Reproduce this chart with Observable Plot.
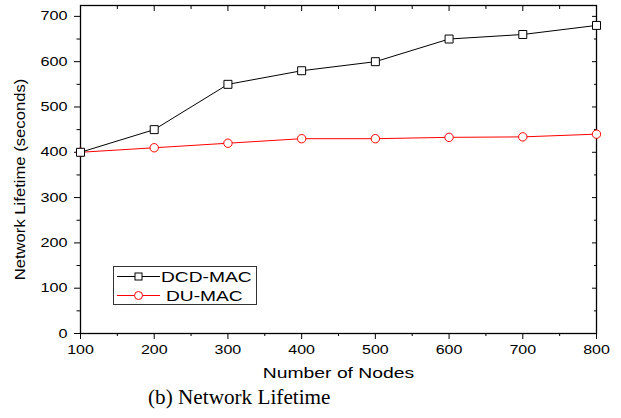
<!DOCTYPE html>
<html><head><meta charset="utf-8">
<script src="https://cdn.jsdelivr.net/npm/d3@7"></script>
<script src="https://cdn.jsdelivr.net/npm/@observablehq/plot@0.6"></script>
<style>
body{margin:0;background:#fff;}
#wrap{position:relative;width:621px;height:418px;font-family:"Liberation Sans",Arial,sans-serif;}
#caption{position:absolute;left:148px;top:386px;font-family:"Liberation Serif","Times New Roman",serif;font-size:20px;color:#000;white-space:nowrap;transform:scaleX(1.06);transform-origin:left top;}
#legend{position:absolute;left:113px;top:266px;}
</style></head>
<body><div id="wrap"><div id="chart"></div><div id="legend"></div><div id="caption">(b) Network Lifetime</div></div>
<script>
const nodes = [100, 200, 300, 400, 500, 600, 700, 800];
const dcdMac = [400, 450, 550, 580, 600, 650, 660, 680];
const duMac = [400, 410, 420, 430, 430, 433, 434, 440];
const seriesNames = ["DCD-MAC", "DU-MAC"];
const seriesColors = ["#000000", "#ff0000"];
const xTicks = [100, 200, 300, 400, 500, 600, 700, 800];
const yTicks = [0, 100, 200, 300, 400, 500, 600, 700];
const xMinor = [150, 250, 350, 450, 550, 650, 750];
const yMinor = [50, 150, 250, 350, 450, 550, 650];

const data = [];
nodes.forEach((n, i) => {
  data.push({x: n, y: dcdMac[i], s: seriesNames[0]});
  data.push({x: n, y: duMac[i], s: seriesNames[1]});
});
const dcd = data.filter(d => d.s === seriesNames[0]);
const du = data.filter(d => d.s === seriesNames[1]);

const font = "Liberation Sans, Arial, sans-serif";
const chart = Plot.plot({
  width: 621, height: 418,
  marginLeft: 80, marginRight: 25, marginTop: 5, marginBottom: 85,
  style: {fontFamily: font, fontSize: "12px", color: "#000", background: "#fff"},
  x: {domain: [100, 800]},
  y: {domain: [0, 724]},
  marks: [
    Plot.frame({stroke: "#000", strokeWidth: 1.3}),
    Plot.axisX({anchor: "bottom", ticks: xTicks, tickSize: 6, tickPadding: 6, fontSize: 12.5, label: null, tickFormat: d => String(d)}),
    Plot.axisX({anchor: "bottom", ticks: xMinor, tickSize: 3, text: null, label: null}),
    Plot.axisX({anchor: "top", ticks: xTicks, tickSize: 5, dy: 5, text: null, label: null}),
    Plot.axisX({anchor: "top", ticks: xMinor, tickSize: 3, dy: 3, text: null, label: null}),
    Plot.axisY({anchor: "left", ticks: yTicks, tickSize: 6, tickPadding: 7, fontSize: 12.5, label: null, tickFormat: d => String(d)}),
    Plot.axisY({anchor: "left", ticks: yMinor, tickSize: 3.5, text: null, label: null}),
    Plot.axisY({anchor: "right", ticks: yTicks, tickSize: 5, dx: -5, text: null, label: null}),
    Plot.axisY({anchor: "right", ticks: yMinor, tickSize: 3, dx: -3, text: null, label: null}),
    Plot.text(["Number of Nodes"], {frameAnchor: "bottom", dy: 40, fontSize: 14, lineAnchor: "middle", className: "stretch-x"}),
    Plot.text(["Network Lifetime (seconds)"], {frameAnchor: "left", textAnchor: "middle", dx: -60, dy: 10, rotate: -90, fontSize: 14, lineAnchor: "middle", className: "stretch-y"}),
    Plot.line(du, {x: "x", y: "y", stroke: seriesColors[1], strokeWidth: 1}),
    Plot.line(dcd, {x: "x", y: "y", stroke: seriesColors[0], strokeWidth: 1}),
    Plot.dot(du, {x: "x", y: "y", r: 4.2, stroke: seriesColors[1], fill: "#fff", strokeWidth: 1}),
    Plot.dot(dcd, {x: "x", y: "y", symbol: "square", r: 4.5, stroke: seriesColors[0], fill: "#fff", strokeWidth: 1})
  ]
});
document.getElementById("chart").appendChild(chart);

// widen glyphs along the text direction to match the reference rendering
function stretch(sel, s) {
  sel.each(function() {
    const t = this.getAttribute("transform");
    if (t && t.includes("translate")) {
      this.setAttribute("transform", `${t} scale(${s},1)`);
    } else {
      const x = parseFloat(this.getAttribute("x")) || 0;
      this.setAttribute("transform", `translate(${x},0) scale(${s},1) translate(${-x},0)`);
    }
  });
}
const root = d3.select(chart);
stretch(root.selectAll('g[aria-label="x-axis tick label"] text'), 1.28);
stretch(root.selectAll('g[aria-label="y-axis tick label"] text'), 1.3);
stretch(root.selectAll('g.stretch-x text'), 1.38);
stretch(root.selectAll('g.stretch-y text'), 1.19);

// legend
const lg = d3.select("#legend").append("svg").attr("width", 145).attr("height", 40)
  .style("font-family", font);
lg.append("rect").attr("x", 0.5).attr("y", 0.5).attr("width", 143).attr("height", 38)
  .attr("fill", "#fff").attr("stroke", "#333").attr("stroke-width", 1);
seriesNames.forEach((name, i) => {
  const y = 10.5 + i * 19;
  lg.append("line").attr("x1", 4).attr("x2", 47).attr("y1", y).attr("y2", y)
    .attr("stroke", seriesColors[i]).attr("stroke-width", 1);
  if (i === 0) {
    lg.append("rect").attr("x", 22).attr("y", y - 3.5).attr("width", 7).attr("height", 7)
      .attr("fill", "#fff").attr("stroke", seriesColors[i]);
  } else {
    lg.append("circle").attr("cx", 25.5).attr("cy", y).attr("r", 4)
      .attr("fill", "#fff").attr("stroke", seriesColors[i]);
  }
  const tx = i === 0 ? 48 : 53;
  lg.append("text").attr("x", tx).attr("y", y).attr("dy", "0.35em")
    .attr("font-size", 15).attr("fill", "#000")
    .attr("transform", `translate(${tx},0) scale(1.28,1) translate(${-tx},0)`)
    .text(name);
});
</script></body></html>
